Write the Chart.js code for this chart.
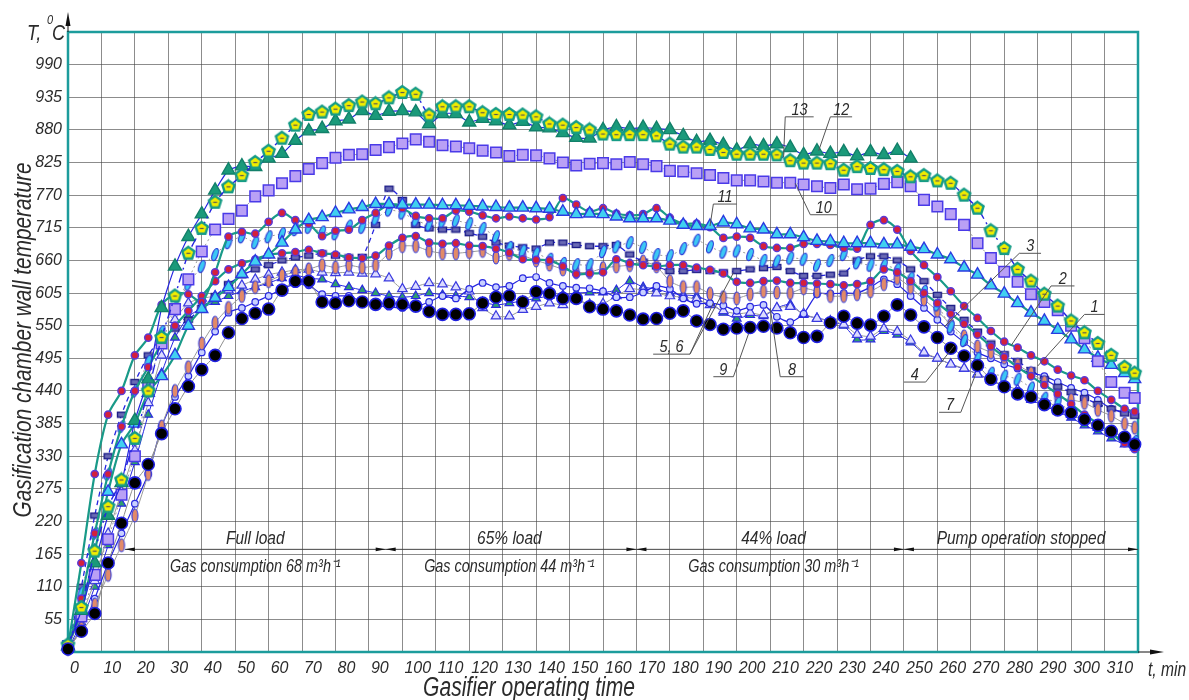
<!DOCTYPE html>
<html>
<head>
<meta charset="utf-8">
<script src="https://cdn.jsdelivr.net/npm/chart.js@4.4.1/dist/chart.umd.min.js"></script>
<style>
  html, body { margin: 0; padding: 0; background: #fff; }
  canvas { display: block; }
</style>
</head>
<body>
<canvas id="chart" width="1189" height="700"></canvas>
<script>
// ==========================
// DATA
// ==========================
const minutes = [
  0, 4, 8, 12, 16, 20, 24, 28, 32, 36,
  40, 44, 48, 52, 56, 60, 64, 68, 72, 76,
  80, 84, 88, 92, 96, 100, 104, 108, 112, 116,
  120, 124, 128, 132, 136, 140, 144, 148, 152, 156,
  160, 164, 168, 172, 176, 180, 184, 188, 192, 196,
  200, 204, 208, 212, 216, 220, 224, 228, 232, 236,
  240, 244, 248, 252, 256, 260, 264, 268, 272, 276,
  280, 284, 288, 292, 296, 300, 304, 308, 312, 316,
  319
];

// curve 13 - yellow pentagons
const temp13 = [
  12, 75, 170, 245, 290, 360, 440, 530, 600, 672,
  714, 758, 784, 803, 825, 844, 866, 888, 906, 910,
  915, 921, 927, 924, 934, 943, 940, 905, 919, 919,
  919, 909, 906, 906, 905, 902, 890, 888, 884, 880,
  873, 872, 872, 872, 870, 856, 851, 851, 847, 842,
  839, 839, 839, 838, 828, 824, 824, 823, 812, 818,
  815, 813, 810, 801, 803, 794, 790, 770, 748, 710,
  680, 645, 625, 603, 583, 558, 538, 520, 500, 480,
  470
];

// curve 12 - teal triangles (stops after the 44% load stage)
const temp12 = [
  10, 70, 150, 230, 285, 390, 460, 580, 650, 700,
  738, 778, 812, 819, 818, 832, 840, 862, 878, 882,
  895, 898, 912, 904, 911, 912, 910, 890, 907, 907,
  893, 899, 895, 888, 894, 885, 883, 875, 867, 866,
  880, 885, 882, 884, 882, 880, 870, 860, 862, 855,
  846, 856, 853, 856, 850, 838, 844, 840, 843, 836,
  843, 838, 845, 832
];

// curve 10 - lavender squares
const temp10 = [
  10, 60, 130, 190, 265, 330, 450, 520, 578, 628,
  675, 712, 730, 744, 768, 778, 790, 802, 814, 824,
  833, 838, 839, 846, 851, 857, 864, 860, 854, 852,
  849, 845, 842, 836, 838, 837, 832, 825, 820, 823,
  824, 822, 826, 822, 819, 811, 810, 807, 804, 799,
  795, 795, 793, 791, 791, 788, 785, 782, 788, 780,
  781, 789, 792, 785, 762, 751, 738, 720, 689, 664,
  641, 624, 603, 590, 576, 550, 529, 490, 455, 437,
  428
];

// curve 11 - cyan triangles on teal line
const temp11 = [
  10, 70, 170, 270, 350, 385, 437, 465, 500, 550,
  578, 597, 615, 637, 658, 670, 690, 712, 728, 733,
  740, 746, 750, 755, 755, 754, 754, 754, 753, 753,
  752, 751, 750, 749, 749, 748, 747, 742, 738, 739,
  738, 734, 731, 731, 731, 727, 720, 718, 718, 724,
  721, 714, 712, 704, 704, 699, 693, 692, 689, 689,
  689, 687, 687, 683, 679, 670, 662, 648, 636, 618,
  604, 588, 572, 558, 543, 527, 510, 496, 484, 470,
  460
];

// curve 3 - red dots on teal line (upper)
const temp3 = [
  10, 150, 300, 400, 440, 500, 530, 585, 603, 603,
  590, 640, 700, 708, 705, 725, 740, 728, 722, 701,
  710, 712, 728, 740, 754, 748, 735, 731, 731, 744,
  742, 736, 731, 734, 731, 729, 733, 765, 754, 742,
  748, 739, 736, 738, 748, 732, 722, 722, 716, 698,
  700, 698, 684, 681, 681, 688, 688, 686, 681, 680,
  720, 728, 712, 676, 652, 632, 608, 583, 563, 541,
  523, 513, 500, 490, 476, 466, 458, 440, 425, 410,
  405
];

// curve 2 - red dots on teal line (lower)
const temp2 = [
  8, 90, 200, 300, 380, 440, 480, 520, 550, 575,
  600, 625, 645, 655, 662, 670, 672, 674, 678, 672,
  670, 665, 664, 668, 685, 698, 701, 690, 688, 689,
  685, 684, 680, 673, 662, 661, 660, 650, 637, 638,
  640, 662, 655, 652, 650, 652, 652, 648, 644, 638,
  624, 622, 625, 626, 622, 622, 621, 620, 618, 620,
  625, 645, 640, 625, 605, 588, 570, 553, 535, 515,
  497, 480, 465, 450, 435, 418, 400, 385, 368, 352,
  342
];

// curve 1 - cyan ellipses
const temp1 = [
  10, 100, 200, 300, 380, 440, 490, 540, 580, 620,
  650, 670, 690, 700, 690, 700, 705, 712, 716, 708,
  705, 718, 716, 730, 745, 740, 728, 720, 726, 727,
  722, 714, 700, 682, 676, 672, 662, 655, 653, 653,
  675, 683, 690, 682, 670, 668, 680, 694, 683, 674,
  676, 670, 660, 659, 664, 662, 652, 660, 670, 656,
  652, 652, 645, 630, 608, 585, 548, 525, 495, 470,
  465, 460, 445, 428, 420, 406, 392, 382, 372, 362,
  355
];

// curve 6 - orange ellipses
const temp6 = [
  5, 40, 80, 130, 180, 230, 300, 380, 440, 480,
  520, 555, 580, 600, 615, 625, 635, 640, 645, 652,
  648, 652, 648, 652, 672, 684, 684, 676, 672, 672,
  674, 676, 665, 671, 668, 660, 653, 645, 640, 640,
  647, 650, 652, 658, 650, 625, 615, 615, 604, 598,
  596, 603, 608, 606, 605, 613, 608, 600, 600, 603,
  608, 620, 630, 614, 594, 575, 552, 532, 515, 505,
  496, 484, 470, 455, 430, 425, 420, 408, 398, 385,
  378
];

// curve 5 - small dark rectangles, dashed line
const temp5 = [
  10, 110, 230, 330, 400, 455, 500, 530, 545, 560,
  580, 600, 620, 635, 645, 652, 660, 665, 668, 672,
  668, 665, 666, 720, 781, 762, 720, 714, 712, 712,
  706, 700, 690, 685, 682, 680, 690, 690, 686, 684,
  684, 686, 670, 658, 650, 642, 642, 644, 642, 640,
  642, 645, 647, 649, 642, 634, 634, 636, 638, 660,
  667, 667, 660, 645, 625, 602, 580, 560, 540, 520,
  502, 490, 475, 460, 447, 438, 428, 418, 410, 402,
  398
];

// curve 8 - small hollow circles
const temp8 = [
  5, 40, 90, 150, 200, 250, 300, 380, 430, 465,
  505, 540, 572, 580, 590, 600, 612, 620, 618, 603,
  600, 600, 590, 584, 582, 580, 582, 590, 600, 596,
  612, 622, 615, 617, 630, 632, 622, 617, 614, 613,
  608, 598, 598, 606, 617, 612, 596, 587, 588, 584,
  575, 582, 585, 565, 556, 570, 603, 604, 605, 605,
  615, 628, 620, 600, 580, 560, 540, 522, 505, 495,
  485, 478, 470, 465, 455, 445, 437, 425, 410, 405,
  404
];

// curve 4 - hollow triangles
const temp4 = [
  8, 60, 120, 200, 270, 340, 420, 500, 560, 588,
  596, 600, 610, 618, 628, 636, 640, 644, 645, 640,
  639, 640, 638, 637, 630, 612, 616, 622, 620, 615,
  608, 580, 566, 566, 577, 582, 588, 585, 594, 586,
  587, 600, 612, 610, 605, 600, 598, 595, 585, 575,
  570, 572, 568, 580, 582, 570, 562, 558, 552, 535,
  532, 545, 540, 525, 505, 495, 485, 478, 468, 458,
  450, 442, 432, 425, 412, 400, 390, 378, 368, 358,
  352
];

// curve 7 - small green triangles
const temp7 = [
  5, 50, 110, 180, 250, 320, 400, 470, 530, 565,
  580, 590, 600, 608, 615, 622, 630, 635, 630, 628,
  620, 615, 610, 605, 600, 598, 600, 605, 602, 600,
  598, 590, 585, 588, 592, 596, 600, 602, 605, 606,
  606, 610, 625, 615, 612, 605, 602, 600, 590, 572,
  562, 568, 566, 580, 586, 568, 563, 558, 550, 527,
  527, 541, 535, 522, 503, 495, 485, 477, 469, 458,
  447, 436, 425, 415, 405, 395, 382, 372, 360, 350,
  345
];

// curve 9 - black circles
const temp9 = [
  5, 35, 65, 150, 217, 285, 316, 368, 410, 448,
  476, 500, 538, 562, 571, 578, 610, 625, 625, 590,
  588, 592, 590, 586, 588, 586, 583, 574, 569, 569,
  570, 588, 598, 600, 590, 607, 604, 596, 596, 582,
  578, 575, 568, 561, 562, 571, 575, 558, 552, 544,
  546, 547, 549, 546, 538, 530, 532, 555, 566, 554,
  551, 566, 585, 568, 548, 530, 512, 499, 483, 460,
  447, 435, 430, 417, 408, 403, 392, 382, 372, 362,
  350
];

// operating stages (boundaries in minutes) and their captions
const stageBounds = [17, 95, 170, 250, 320];
const stageNames = ["Full load", "65% load", "44% load", "Pump operation stopped"];
const stageGas = ["Gas consumption 68 m³h⁻¹", "Gas consumption 44 m³h⁻¹", "Gas consumption 30 m³h⁻¹", ""];
const stageTextAt = [56, 132, 211, 285];
const stageLevel = 173;

// curve number call-outs: text, shelf [t1, t2, T], leader lines [t1, T1, t2, T2]
const callouts = [
  { text: "13", shelf: [214.5, 223, 902], lines: [[214.5, 902, 214, 834]] },
  { text: "12", shelf: [228, 234.5, 902], lines: [[228, 902, 224.5, 845]] },
  { text: "10", shelf: [222, 230, 737], lines: [[222, 737, 217.5, 790]] },
  { text: "11", shelf: [193, 200, 755], lines: [[193, 755, 192, 718]] },
  { text: "5, 6", shelf: [175, 186, 502], lines: [[186, 502, 199, 639], [186, 502, 193, 588]] },
  { text: "9", shelf: [193, 199, 464], lines: [[199, 464, 203.5, 536]] },
  { text: "8", shelf: [213, 220, 464], lines: [[213, 464, 210, 580]] },
  { text: "4", shelf: [250, 256.5, 455], lines: [[256.5, 455, 265, 516]] },
  { text: "7", shelf: [260.5, 267, 404], lines: [[267, 404, 271.5, 469]] },
  { text: "3", shelf: [284.5, 291, 672], lines: [[284.5, 672, 262, 548]] },
  { text: "2", shelf: [294, 301, 617], lines: [[294, 617, 282, 516]] },
  { text: "1", shelf: [304, 310, 569], lines: [[304, 569, 290, 482]] }
];

// ==========================
// MARQUEURS PERSONNALISÉS
// ==========================
function makeMarker(w, h, draw) {
  const c = document.createElement("canvas");
  c.width = w;
  c.height = h;
  draw(c.getContext("2d"), w / 2, h / 2);
  return c;
}

const pentagon = makeMarker(17, 17, (g, cx, cy) => {
  g.beginPath();
  for (let i = 0; i < 5; i++) {
    const a = -Math.PI / 2 + (i * 2 * Math.PI) / 5;
    const px = cx + 6.4 * Math.cos(a);
    const py = cy + 6.4 * Math.sin(a);
    i ? g.lineTo(px, py) : g.moveTo(px, py);
  }
  g.closePath();
  g.fillStyle = "#f2ee00";
  g.fill();
  g.lineWidth = 2.4;
  g.strokeStyle = "#169c86";
  g.stroke();
  g.fillStyle = "#555";
  g.fillRect(cx - 2, cy - 0.6, 4, 1.2);
});

const cyanEllipse = makeMarker(12, 17, (g, cx, cy) => {
  g.beginPath();
  g.ellipse(cx, cy, 2.7, 6.3, 0.35, 0, Math.PI * 2);
  g.fillStyle = "#3cc8f4";
  g.fill();
  g.lineWidth = 1.2;
  g.strokeStyle = "#2b3bd8";
  g.stroke();
});

const orangeEllipse = makeMarker(10, 17, (g, cx, cy) => {
  g.beginPath();
  g.ellipse(cx, cy, 3, 6.5, 0, 0, Math.PI * 2);
  g.fillStyle = "#e28a68";
  g.fill();
  g.lineWidth = 1.2;
  g.strokeStyle = "#3a40d8";
  g.stroke();
});

const darkRect = makeMarker(11, 8, (g, cx, cy) => {
  g.fillStyle = "#6a6ab4";
  g.fillRect(cx - 4, cy - 2.5, 8, 5);
  g.lineWidth = 1.4;
  g.strokeStyle = "#1e1e88";
  g.strokeRect(cx - 4, cy - 2.5, 8, 5);
});

// ==========================
// DATASETS
// ==========================
const BLUE = "#2424e0";
const TEAL = "#199a88";
const GREY = "#9a9a9a";

function curve(label, temps, style) {
  return Object.assign(
    {
      label,
      data: temps.map((v, i) => ({ x: minutes[i], y: v })),
      fill: false,
      borderWidth: 1.2,
      pointBorderWidth: 1.3,
      tension: 0.2,
      clip: false,
    },
    style,
  );
}

const datasets = [
  curve("9", temp9, { order: 1, borderColor: "#8c8c8c", borderWidth: 1, pointStyle: "circle", pointRadius: 6, pointBackgroundColor: "#000", pointBorderColor: "#1f1fe0", pointBorderWidth: 1.6 }),
  curve("13", temp13, { order: 2, borderColor: BLUE, borderWidth: 1.4, borderDash: [9, 4, 2, 4], pointStyle: pentagon, pointRadius: 7 }),
  curve("12", temp12, { order: 3, borderColor: BLUE, pointStyle: "triangle", pointRadius: 7.5, pointBackgroundColor: "#1a9a7a", pointBorderColor: "#12806a", pointBorderWidth: 1.4 }),
  curve("10", temp10, { order: 4, borderColor: GREY, borderWidth: 1, borderDash: [2, 3], pointStyle: "rect", pointRadius: 7.5, pointBackgroundColor: "#b9a0f5", pointBorderColor: "#4a3ae8", pointBorderWidth: 1.5 }),
  curve("11", temp11, { order: 5, borderColor: TEAL, borderWidth: 2.2, tension: 0.3, pointStyle: "triangle", pointRadius: 7, pointBackgroundColor: "#40d0f0", pointBorderColor: "#2a3ae0", pointBorderWidth: 1.4 }),
  curve("3", temp3, { order: 6, borderColor: TEAL, borderWidth: 2.2, tension: 0.3, pointStyle: "circle", pointRadius: 3.6, pointBackgroundColor: "#d4203c", pointBorderColor: "#5a3ad8", pointBorderWidth: 1.5 }),
  curve("2", temp2, { order: 7, borderColor: TEAL, borderWidth: 2.2, tension: 0.3, pointStyle: "circle", pointRadius: 3.6, pointBackgroundColor: "#d4203c", pointBorderColor: "#5a3ad8", pointBorderWidth: 1.5 }),
  curve("1", temp1, { order: 8, borderColor: GREY, borderWidth: 1, borderDash: [2, 3], pointStyle: cyanEllipse, pointRadius: 6 }),
  curve("6", temp6, { order: 9, borderColor: GREY, borderWidth: 1, pointStyle: orangeEllipse, pointRadius: 6 }),
  curve("5", temp5, { order: 10, borderColor: BLUE, borderWidth: 1.3, borderDash: [5, 4], pointStyle: darkRect, pointRadius: 5 }),
  curve("8", temp8, { order: 11, borderColor: BLUE, pointStyle: "circle", pointRadius: 3.3, pointBackgroundColor: "#c8d0ff", pointBorderColor: "#2a2ae0", pointBorderWidth: 1.2 }),
  curve("4", temp4, { order: 12, borderColor: GREY, borderWidth: 1, pointStyle: "triangle", pointRadius: 5.5, pointBackgroundColor: "#dcdcff", pointBorderColor: "#3a3ae0", pointBorderWidth: 1.2 }),
  curve("7", temp7, { order: 13, borderColor: BLUE, borderWidth: 1, pointStyle: "triangle", pointRadius: 5, pointBackgroundColor: "#2e9e6e", pointBorderColor: "#2a2ae0", pointBorderWidth: 1.2 }),
];

// ==========================
// DÉCOR : cadre, flèches, titres, légendes
// ==========================
const FONT = '"Liberation Sans", Arial, sans-serif';
const INK = "#2b2b2b";

// italic text squeezed horizontally, like the drawing font of the original
function drawText(ctx, text, x, y, size, align, sx, rot) {
  ctx.save();
  ctx.translate(x, y);
  if (rot) ctx.rotate(rot);
  ctx.scale(sx, 1);
  ctx.font = `italic ${size}px ${FONT}`;
  ctx.textAlign = align;
  ctx.textBaseline = "alphabetic";
  ctx.fillText(text, 0, 0);
  ctx.restore();
}

function arrowHead(ctx, x, y, dir, len, half) {
  ctx.beginPath();
  if (dir === "up") {
    ctx.moveTo(x, y);
    ctx.lineTo(x - half, y + len);
    ctx.lineTo(x + half, y + len);
  } else {
    ctx.moveTo(x, y);
    ctx.lineTo(x - dir * len, y - half);
    ctx.lineTo(x - dir * len, y + half);
  }
  ctx.closePath();
  ctx.fill();
}

const decorPlugin = {
  id: "decor",
  beforeDatasetsDraw(chart) {
    const { ctx, chartArea: a } = chart;
    ctx.save();
    ctx.strokeStyle = "#1c9c9c";
    ctx.lineWidth = 2.5;
    ctx.strokeRect(a.left, a.top, a.right - a.left, a.bottom - a.top);
    ctx.restore();
  },
  afterDraw(chart) {
    const { ctx, chartArea: a } = chart;
    const xs = chart.scales.x;
    const ys = chart.scales.y;
    ctx.save();
    ctx.fillStyle = "#111";
    ctx.strokeStyle = "#111";
    ctx.lineWidth = 1;

    // axis arrows
    ctx.beginPath();
    ctx.moveTo(a.left, a.top);
    ctx.lineTo(a.left, 20);
    ctx.moveTo(a.right, a.bottom);
    ctx.lineTo(a.right + 16, a.bottom);
    ctx.stroke();
    arrowHead(ctx, a.left, 12, "up", 14, 2.5);
    arrowHead(ctx, a.right + 26, a.bottom, 1, 14, 2.5);

    // stage dimension line
    const ly = ys.getPixelForValue(stageLevel);
    ctx.strokeStyle = "#444";
    ctx.beginPath();
    ctx.moveTo(xs.getPixelForValue(stageBounds[0]), ly);
    ctx.lineTo(xs.getPixelForValue(stageBounds[stageBounds.length - 1]), ly);
    ctx.stroke();
    stageBounds.forEach((b, i) => {
      const bx = xs.getPixelForValue(b);
      if (i > 0) arrowHead(ctx, bx, ly, 1, 10, 1.8);
      if (i < stageBounds.length - 1) arrowHead(ctx, bx, ly, -1, 10, 1.8);
    });

    ctx.fillStyle = INK;
    stageNames.forEach((name, i) => {
      const cx = xs.getPixelForValue(stageTextAt[i]);
      drawText(ctx, name, cx, ly - 5, 18, "center", 0.86);
      if (stageGas[i]) drawText(ctx, stageGas[i], cx, ly + 23, 18, "center", 0.8);
    });

    // call-outs
    ctx.strokeStyle = "#555";
    ctx.lineWidth = 1;
    callouts.forEach((c) => {
      const x1 = xs.getPixelForValue(c.shelf[0]);
      const x2 = xs.getPixelForValue(c.shelf[1]);
      const sy = ys.getPixelForValue(c.shelf[2]);
      ctx.beginPath();
      ctx.moveTo(x1, sy);
      ctx.lineTo(x2, sy);
      c.lines.forEach((l) => {
        ctx.moveTo(xs.getPixelForValue(l[0]), ys.getPixelForValue(l[1]));
        ctx.lineTo(xs.getPixelForValue(l[2]), ys.getPixelForValue(l[3]));
      });
      ctx.stroke();
      drawText(ctx, c.text, (x1 + x2) / 2, sy - 2, 17, "center", 0.85);
    });

    // axis titles
    drawText(ctx, "Gasifier operating time", 529, 696, 27, "center", 0.78);
    drawText(ctx, "t, min", 1148, 676, 20, "left", 0.78);
    drawText(ctx, "T,", 27, 40, 22, "left", 0.82);
    drawText(ctx, "C", 52, 40, 22, "left", 0.82);
    drawText(ctx, "0", 47, 24, 13, "left", 0.85);
    drawText(ctx, "Gasification chamber wall temperature", 31, 340, 26, "center", 0.8, -Math.PI / 2);

    ctx.restore();
  },
};

// ==========================
// CHART
// ==========================
const tickFont = { family: FONT, size: 16, style: "italic" };
const gridStyle = { color: "rgba(70,70,70,0.62)", lineWidth: 1, drawTicks: false };

new Chart(document.getElementById("chart").getContext("2d"), {
  type: "line",
  data: { datasets },
  options: {
    responsive: false,
    animation: false,
    layout: { padding: { top: 32, right: 51, left: 0, bottom: 0 } },
    plugins: { legend: { display: false }, tooltip: { enabled: false } },
    scales: {
      x: {
        type: "linear",
        min: 0,
        max: 320,
        afterFit: (s) => { s.height = 48; },
        border: { display: false },
        grid: gridStyle,
        ticks: {
          stepSize: 10,
          autoSkip: false,
          maxRotation: 0,
          align: "start",
          labelOffset: 2,
          padding: 7,
          color: INK,
          font: tickFont,
          callback: (v) => (v >= 320 ? "" : v),
        },
      },
      y: {
        min: 0,
        max: 1045,
        afterFit: (s) => { s.width = 68; },
        border: { display: false },
        grid: gridStyle,
        ticks: {
          stepSize: 55,
          padding: 6,
          color: INK,
          font: tickFont,
          callback: (v) => (v === 0 || v >= 1045 ? "" : v),
        },
      },
    },
  },
  plugins: [decorPlugin],
});
</script>
</body>
</html>
